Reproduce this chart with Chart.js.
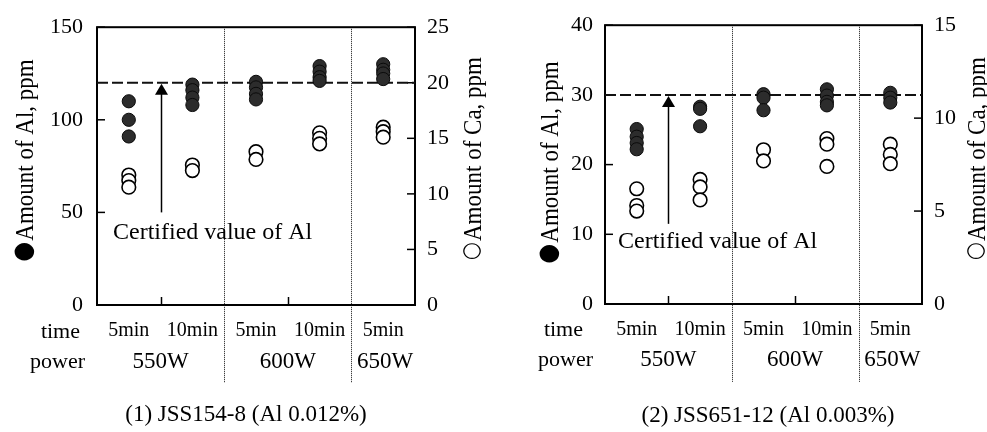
<!DOCTYPE html>
<html><head><meta charset="utf-8">
<script src="https://cdn.jsdelivr.net/npm/chart.js@4/dist/chart.umd.min.js"></script>
<style>
html,body{margin:0;padding:0;background:#fff;}
#wrap{position:relative;width:987px;height:432px;overflow:hidden;background:#fff;}
canvas{position:absolute;top:0;}
</style></head><body>
<div id="wrap">
<canvas id="c1" width="493" height="432" style="left:0"></canvas>
<canvas id="c2" width="494" height="432" style="left:493px"></canvas>
</div>
<script>
// ---------- data ----------
const timeLabels = ['5min', '10min', '5min', '10min', '5min'];
const powerLabels = ['550W', '600W', '650W'];
const powerSpans = [2, 2, 1];

// Panel (1) JSS154-8
const al1 = [[110, 100, 91], [119, 116, 112, 108], [120.5, 117.5, 114, 111], [129, 126, 123, 121], [130, 127, 125, 122]];
const ca1 = [[11.7, 11.2, 10.6], [12.6, 12.1], [13.8, 13.1], [15.5, 15.0, 14.5], [16.0, 15.6, 15.1]];
const alRange1 = [0, 150, 50];
const caRange1 = [0, 25, 5];
const certified1 = 120;
const arrowFrom1 = 50;
const caption1 = '(1) JSS154-8 (Al 0.012%)';

// Panel (2) JSS651-12
const al2 = [[25.1, 24.0, 23.1, 22.2], [28.3, 28.0, 25.5], [30.1, 29.6, 27.8], [30.8, 29.9, 29.0, 28.5], [30.3, 29.6, 28.9]];
const ca2 = [[6.2, 5.3, 5.0], [6.7, 6.3, 5.6], [8.3, 7.7], [8.9, 8.6, 7.4], [8.6, 8.05, 7.55]];
const alRange2 = [0, 40, 10];
const caRange2 = [0, 15, 5];
const certified2 = 30;
const arrowFrom2 = 11.5;
const caption2 = '(2) JSS651-12 (Al 0.003%)';

const alTitle = '\u25CFAmount of Al, ppm';
const caTitle = '\u25CBAmount of Ca, ppm';
const certText = 'Certified value of Al';

// ---------- drawing ----------
const F = "'Liberation Serif', 'Times New Roman', serif";
const SYM = "'DejaVu Sans', sans-serif";
const toPts = arr => arr.flatMap((vals, i) => vals.map(v => ({x: i, y: v})));

function drawTitle(ctx, text, cx, cy, size, symD) {
  const sym = text[0], rest = text.slice(1);
  ctx.save();
  ctx.translate(cx, cy); ctx.rotate(-Math.PI / 2); ctx.scale(1, 1.12);
  ctx.textAlign = 'left'; ctx.textBaseline = 'alphabetic';
  ctx.font = size + 'px ' + F;
  const capH = size * 0.66;
  const wRest = ctx.measureText(rest).width;
  ctx.font = '100px ' + SYM;
  let m = ctx.measureText(sym);
  const h = m.actualBoundingBoxAscent + m.actualBoundingBoxDescent;
  const sSize = 100 * (symD / 1.12) / h;
  ctx.font = sSize + 'px ' + SYM;
  m = ctx.measureText(sym);
  const wSym = m.actualBoundingBoxLeft + m.actualBoundingBoxRight;
  const gap = 2;
  const total = wSym + gap + wRest;
  let u = -total / 2;
  const base = (m.actualBoundingBoxAscent - m.actualBoundingBoxDescent) / 2;
  ctx.fillText(sym, u + m.actualBoundingBoxLeft, base);
  u += wSym + gap;
  ctx.font = size + 'px ' + F;
  ctx.fillText(rest, u, capH / 2);
  ctx.restore();
}

const decor = {
  id: 'decor',
  beforeDatasetsDraw(chart, args, o) {
    const {ctx, chartArea: a, scales: {x, y, y2}} = chart;
    ctx.save();
    ctx.fillStyle = '#000';
    ctx.strokeStyle = '#000';
    // boundaries between slots
    const powerBounds = [];
    let acc = 0;
    powerSpans.forEach(s => { acc += s; powerBounds.push(acc - 0.5); });
    for (let i = 0; i < timeLabels.length - 1; i++) {
      const b = i + 0.5;
      const px = Math.round(x.getPixelForValue(b)) + 0.5;
      if (powerBounds.includes(b)) {
        ctx.save();
        ctx.strokeStyle = '#111'; ctx.lineWidth = 1; ctx.setLineDash([1, 1]);
        ctx.beginPath(); ctx.moveTo(px, a.top); ctx.lineTo(px, o.dividerBottom); ctx.stroke();
        ctx.restore();
      } else {
        ctx.lineWidth = 1.5;
        ctx.beginPath(); ctx.moveTo(px, a.bottom); ctx.lineTo(px, a.bottom - 8); ctx.stroke();
      }
    }
    // inward y ticks
    ctx.lineWidth = 1.5;
    y.ticks.forEach(t => {
      const py = y.getPixelForValue(t.value);
      ctx.beginPath(); ctx.moveTo(a.left, py); ctx.lineTo(a.left + 8, py); ctx.stroke();
    });
    y2.ticks.forEach(t => {
      const py = y2.getPixelForValue(t.value);
      ctx.beginPath(); ctx.moveTo(a.right, py); ctx.lineTo(a.right - 8, py); ctx.stroke();
    });
    // frame
    ctx.lineWidth = 2;
    ctx.strokeRect(a.left, a.top, a.right - a.left, a.bottom - a.top);
    // certified dashed line
    const cy = y.getPixelForValue(o.certified);
    ctx.save();
    ctx.strokeStyle = '#111'; ctx.lineWidth = 2; ctx.setLineDash([11, 4]);
    ctx.beginPath(); ctx.moveTo(a.left, cy); ctx.lineTo(a.right, cy); ctx.stroke();
    ctx.restore();
    // arrow
    const ax = Math.round(x.getPixelForValue(0.5)) + 0.5;
    const ay = y.getPixelForValue(o.arrowFrom);
    ctx.lineWidth = 1.5;
    ctx.beginPath(); ctx.moveTo(ax, ay); ctx.lineTo(ax, cy + 8); ctx.stroke();
    ctx.beginPath(); ctx.moveTo(ax, cy + 1); ctx.lineTo(ax - 6.5, cy + 12); ctx.lineTo(ax + 6.5, cy + 12); ctx.closePath(); ctx.fill();
    // certified text
    ctx.font = '24px ' + F;
    ctx.textAlign = 'left'; ctx.textBaseline = 'middle';
    ctx.fillText(certText, o.certX, o.certY);
    // lower labels
    ctx.textAlign = 'right';
    ctx.font = '22px ' + F;
    ctx.fillText('time', a.left - o.timeGap, o.timeY);
    ctx.fillText('power', a.left - 12, o.powerY);
    ctx.textAlign = 'center';
    ctx.font = '23px ' + F;
    let start = 0;
    powerLabels.forEach((lab, i) => {
      const c = start + powerSpans[i] / 2 - 0.5;
      ctx.fillText(lab, x.getPixelForValue(c) + (powerSpans[i] === 1 ? 2 : 0), o.powerY);
      start += powerSpans[i];
    });
    // caption
    ctx.font = '23px ' + F;
    ctx.fillText(o.caption, o.capX, o.capY);
    // axis titles (both read bottom-to-top)
    drawTitle(ctx, alTitle, o.lt[0], o.lt[1], 23, 20);
    drawTitle(ctx, caTitle, o.rt[0], o.rt[1], 23, 18);
    ctx.restore();
  }
};

function makeChart(id, g) {
  return new Chart(document.getElementById(id), {
    type: 'scatter',
    data: {
      datasets: [
        {label: 'Ca', data: toPts(g.ca), yAxisID: 'y2', pointRadius: 6.8, pointBackgroundColor: '#fff', pointBorderColor: '#000', pointBorderWidth: 1.6},
        {label: 'Al', data: toPts(g.al), yAxisID: 'y', pointRadius: 6.6, pointBackgroundColor: '#2c2c2c', pointBorderColor: '#0a0a0a', pointBorderWidth: 1}
      ]
    },
    options: {
      responsive: false, animation: false, devicePixelRatio: 1,
      layout: {padding: {top: g.top, left: 0, right: 0, bottom: 0}},
      plugins: {legend: {display: false}, tooltip: {enabled: false}, decor: g.decor},
      scales: {
        x: {
          type: 'linear', min: -0.5, max: timeLabels.length - 0.5,
          afterBuildTicks(s) { s.ticks = timeLabels.map((_, i) => ({value: i})); },
          ticks: {autoSkip: false, maxRotation: 0, padding: 14, color: '#000', font: {family: F, size: 20},
                  callback: (v, i) => timeLabels[i]},
          grid: {display: false, drawTicks: false}, border: {display: false},
          afterFit(s) { s.height = g.bottomH; }
        },
        y: {
          position: 'left', min: g.alR[0], max: g.alR[1],
          ticks: {stepSize: g.alR[2], padding: g.lPad, color: '#000', font: {family: F, size: 22}},
          grid: {display: false, drawTicks: false}, border: {display: false},
          afterFit(s) { s.width = g.leftW; }
        },
        y2: {
          position: 'right', min: g.caR[0], max: g.caR[1],
          ticks: {stepSize: g.caR[2], padding: 12, color: '#000', font: {family: F, size: 22}},
          grid: {display: false, drawTicks: false}, border: {display: false},
          afterFit(s) { s.width = g.rightW; }
        }
      }
    },
    plugins: [decor]
  });
}

makeChart('c1', {
  al: al1, ca: ca1, alR: alRange1, caR: caRange1,
  top: 19, bottomH: 127, leftW: 97, rightW: 78, lPad: 14,
  decor: {certified: certified1, arrowFrom: arrowFrom1, caption: caption1,
          dividerBottom: 383, certX: 113, certY: 233, timeGap: 17, timeY: 332, powerY: 362,
          capX: 246, capY: 415, lt: [24, 160], rt: [472, 158]}
});
makeChart('c2', {
  al: al2, ca: ca2, alR: alRange2, caR: caRange2,
  top: 17, bottomH: 128, leftW: 112, rightW: 65, lPad: 12,
  decor: {certified: certified2, arrowFrom: arrowFrom2, caption: caption2,
          dividerBottom: 382, certX: 125, certY: 242, timeGap: 22, timeY: 330, powerY: 360,
          capX: 275, capY: 416, lt: [56, 162], rt: [483, 158]}
});
</script>
</body></html>
